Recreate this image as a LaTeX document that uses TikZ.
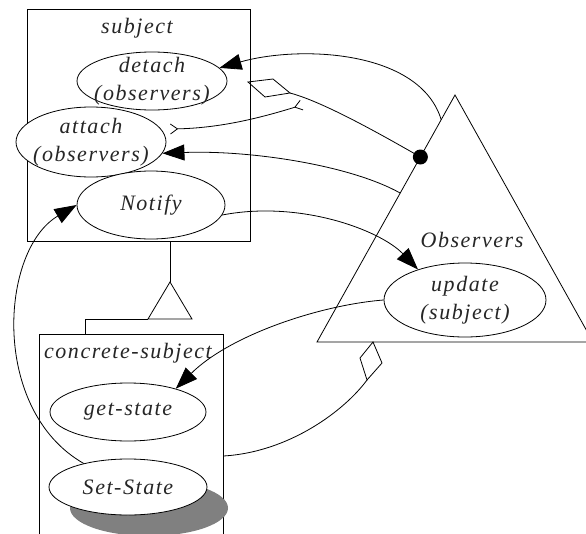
\documentclass[tikz,border=0pt]{standalone}
\usepackage{fontspec}
\setmainfont{Liberation Serif}
\usetikzlibrary{arrows.meta,calc,shapes.geometric}
\definecolor{shade}{RGB}{128,128,128}
\begin{document}
\begin{tikzpicture}[x=1pt,y=-1pt,
  ln/.style={line width=0.8pt},
  box/.style={draw, line width=0.9pt, rectangle, inner sep=0pt},
  oval/.style={draw, ellipse, line width=0.8pt, fill=white, inner sep=0pt},
  lab/.style={inner sep=0pt, align=center, text=black!85, font=\fontsize{22}{28}\selectfont\itshape\addfontfeature{LetterSpace=7}},
  big/.style={-{Triangle[length=22pt,width=16pt]}},
  barbs/.style={{Straight Barb[reversed,length=7pt,width=10pt]}-{Straight Barb[reversed,length=7pt,width=10pt]}},
  ]
\clip (0,0) rectangle (586,533);
\fill[white] (0,0) rectangle (586,533);

% subject class
\node[box, minimum width=223pt, minimum height=232pt] (subject) at (138.5,125) {};
\node[lab] (subjectlab) at (137,28) {subject};
\node[oval, minimum width=150pt, minimum height=58pt] (detach) at (152,81) {};
\node[lab] (detachlab) at (detach) {detach\\(observers)};
\node[oval, minimum width=150pt, minimum height=70pt] (attach) at (91,142) {};
\node[lab] (attachlab) at (attach) {attach\\(observers)};
\node[oval, minimum width=148pt, minimum height=68pt] (notify) at (151,205) {};
\node[lab] (notifylab) at (notify) {Notify};

% observers triangle
\coordinate (oA) at (455,95);
\coordinate (oL) at (317,342);
\coordinate (oR) at (593,342);
\draw[ln] (oA) -- (oL) -- (oR) -- cycle;
\node[lab] (obslab) at (472,240) {Observers};
\node[oval, minimum width=162pt, minimum height=74pt] (update) at (465,300) {};
\node[lab] (updatelab) at (update) {update\\(subject)};

% concrete subject
\node[box, minimum width=184pt, minimum height=230pt] (csub) at (131,449) {};
\node[lab] (csublab) at (128,353) {concrete-subject};
\node[oval, minimum width=156pt, minimum height=58pt] (getstate) at (128,412) {};
\node[lab] (getstatelab) at (getstate) {get-state};
\node[ellipse, fill=shade, inner sep=0pt, minimum width=158pt, minimum height=56pt] (shadow) at (149,508) {};
\node[oval, minimum width=158pt, minimum height=56pt] (setstate) at (128,487) {};
\node[lab] (setstatelab) at (setstate) {Set-State};

% inheritance
\coordinate (iA) at (170,282);
\coordinate (iL) at (148,319);
\coordinate (iR) at (192,319);
\coordinate (iC) at (85,319);
\draw[ln] (subject.south -| iA) -- (iA);
\draw[ln] (iA) -- (iL) -- (iR) -- cycle;
\draw[ln] (iL) -- (iC) -- (iC |- csub.north);

% connectors
\coordinate (oS1) at ($(oA)!0.10!(oL)$);
\coordinate (oS2) at ($(oA)!0.397!(oL)$);
\draw[ln,big] (oS1) .. controls (420,50) and (300,45) .. (detach.11);

\coordinate (dL) at (248,82);
\coordinate (dT) at (273,79);
\coordinate (dR) at (290,93);
\coordinate (dB) at (265,97);
\draw[ln] (dL) -- (dT) -- (dR) -- (dB) -- cycle;
\node[circle, fill, inner sep=0pt, minimum size=15pt] (dot) at ($(oA)!0.251!(oL)$) {};
\draw[ln] (dR) .. controls (320,101) and (370,128) .. (dot.center);

\coordinate (aO) at (170,129);
\coordinate (fork) at (302,105);
\draw[ln,barbs] (aO) .. controls (220,128) and (260,118) .. (fork);

\draw[ln,big] (oS2) .. controls (350,165) and (250,150) .. (attach.-9);
\draw[ln,big] (notify.-8) .. controls (300,200) and (380,230) .. (update.147);
\draw[ln,big] (update.west) .. controls (320,305) and (230,335) .. (getstate.26);
\draw[ln,big] (setstate.152) .. controls (-10,410) and (0,250) .. (notify.west);

\coordinate (cy) at (0,456);
\coordinate (eT) at (373,342);
\coordinate (eR) at (382,363);
\coordinate (eB) at (367,380);
\coordinate (eLf) at (360,358);
\draw[ln] (csub.east |- cy) .. controls (290,452) and (345,410) .. (eB);
\draw[ln] (eT) -- (eR) -- (eB) -- (eLf) -- cycle;
\end{tikzpicture}
\end{document}
